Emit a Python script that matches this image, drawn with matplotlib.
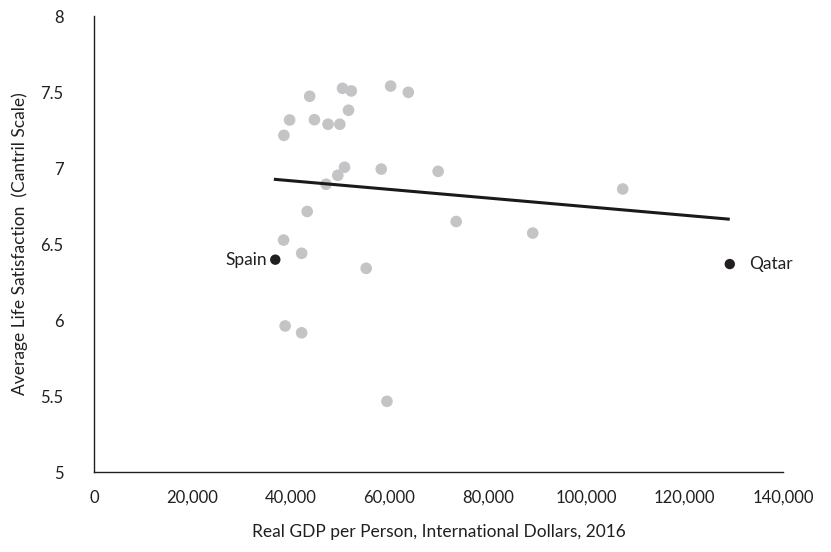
import numpy as np
import matplotlib
matplotlib.use('Agg')
import matplotlib.pyplot as plt
from matplotlib.ticker import FuncFormatter

plt.rcParams['font.family'] = ['Lato', 'DejaVu Sans']

# GDP per person (international $, 2016) and life satisfaction, other countries
gdp = [38590, 39750, 43830, 44790, 47560, 49950, 50500, 52290, 51720, 60280,
       63870, 50910, 49540, 47160, 58370, 69930, 43320, 73600, 38530, 42200,
       55310, 38840, 42200, 59530, 89150, 107440]
sat = [7.215, 7.316, 7.472, 7.318, 7.288, 7.288, 7.524, 7.507, 7.380, 7.539,
       7.498, 7.005, 6.952, 6.893, 6.993, 6.978, 6.714, 6.648, 6.526, 6.439,
       6.340, 5.961, 5.916, 5.465, 6.572, 6.862]

# highlighted countries
hl_names = ['Spain', 'Qatar']
hl_gdp = [36840, 129190]
hl_sat = [6.397, 6.368]

# linear trend line end points as drawn
trend_gdp = [36550, 129190]
trend_sat = [6.926, 6.663]

fig = plt.figure(figsize=(8.31, 5.52), dpi=100)
ax = fig.add_axes([0.1131, 0.1449, 0.8291, 0.8261])

ax.scatter(gdp, sat, s=70, color='#C4C4C6', edgecolors='none', zorder=2)
ax.plot(trend_gdp, trend_sat, color='#1a1a1a', lw=2.2, zorder=3, solid_capstyle='butt')
ax.scatter(hl_gdp, hl_sat, s=56, color='#231F20', edgecolors='none', zorder=4)

ax.annotate(hl_names[0], (hl_gdp[0], hl_sat[0]), xytext=(-6, 0), textcoords='offset points',
            ha='right', va='center', fontsize=12.5, color='#231F20')
ax.annotate(hl_names[1], (hl_gdp[1], hl_sat[1]), xytext=(14, 0), textcoords='offset points',
            ha='left', va='center', fontsize=12.5, color='#231F20')

ax.set_xlim(0, 140000)
ax.set_ylim(5, 8)
ax.set_xticks(np.arange(0, 140001, 20000))
ax.set_yticks(np.arange(5, 8.01, 0.5))
ax.xaxis.set_major_formatter(FuncFormatter(lambda v, p: f'{int(v):,}'))
ax.yaxis.set_major_formatter(FuncFormatter(lambda v, p: f'{v:g}'))
ax.tick_params(length=0, labelsize=12, colors='#231F20')
ax.tick_params(axis='x', pad=13)
ax.tick_params(axis='y', pad=22)

for s in ['top', 'right']:
    ax.spines[s].set_visible(False)
for s in ['left', 'bottom']:
    ax.spines[s].set_color('#231F20')
    ax.spines[s].set_linewidth(1.0)

ax.set_xlabel('Real GDP per Person, International Dollars, 2016', fontsize=12.5, color='#231F20', labelpad=13)
ax.set_ylabel('Average Life Satisfaction  (Cantril Scale)', fontsize=12.5, color='#231F20', labelpad=9)

fig.savefig('out.png', dpi=100)
